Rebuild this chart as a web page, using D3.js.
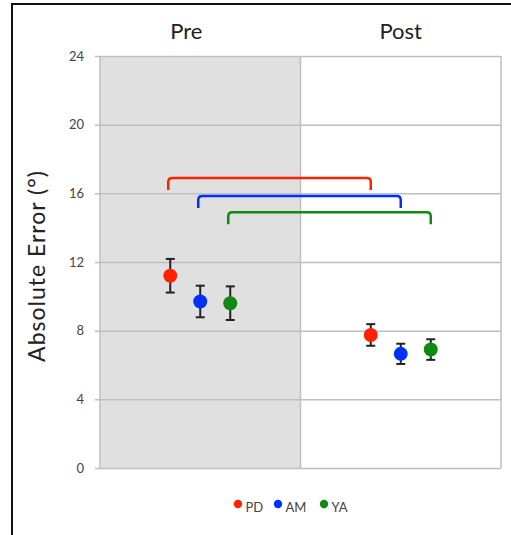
<!DOCTYPE html>
<html>
<head>
<meta charset="utf-8">
<script src="https://cdnjs.cloudflare.com/ajax/libs/d3/7.8.5/d3.min.js"></script>
<style>
  body { margin: 0; background: #fff; }
  text { font-family: Lato, "Open Sans", sans-serif; }
</style>
</head>
<body>
<script>
// Chart data
var categories = ["Pre", "Post"];
var groups = ["PD", "AM", "YA"];
var groupColors = ["#ff2200", "#0030ff", "#108a10"];
var meanValues = [[11.2, 9.7, 9.6], [7.75, 6.65, 6.9]];
var errValues = [[0.98, 0.92, 0.98], [0.63, 0.59, 0.6]];
var yTicks = [0, 4, 8, 12, 16, 20, 24];
var bracketTops = [16.9, 15.85, 14.9];
var yTitle = "Absolute Error (°)";

var width = 511, height = 535;
var plot = {left: 100, right: 501, top: 56, bottom: 468};

var svg = d3.select("body").append("svg")
    .attr("width", width)
    .attr("height", height);

// frame (left and top edge only)
svg.append("path")
    .attr("d", "M12,535 L12,4 L511,4")
    .attr("fill", "none")
    .attr("stroke", "#111")
    .attr("stroke-width", 2);

var x = d3.scaleBand().domain(categories).range([plot.left, plot.right]);
var inner = d3.scalePoint().domain(groups).range([-30, 30]);
var y = d3.scaleLinear().domain([0, 24]).range([plot.bottom, plot.top]);

// shaded "Pre" half
svg.append("rect")
    .attr("x", x("Pre"))
    .attr("y", y(24))
    .attr("width", x.bandwidth())
    .attr("height", y(0) - y(24))
    .attr("fill", "#e0e0e0");

// gridlines + tick labels
var yAxis = svg.append("g")
    .attr("transform", "translate(" + (plot.left - 5) + ",0)")
    .call(d3.axisLeft(y).tickValues(yTicks).tickSize(-(plot.right - plot.left + 5)).tickPadding(11));
yAxis.select(".domain").remove();
yAxis.selectAll("line").attr("stroke", "#bfbfbf").attr("stroke-width", 1.5);
yAxis.selectAll("text")
    .attr("fill", "#444")
    .style("font-size", "13px");

// vertical borders
var vlines = [plot.left, x("Post"), plot.right];
svg.selectAll(".vline").data(vlines).enter().append("line")
    .attr("class", "vline")
    .attr("x1", function(d) { return d; })
    .attr("x2", function(d) { return d; })
    .attr("y1", y(24))
    .attr("y2", y(0))
    .attr("stroke", "#bfbfbf")
    .attr("stroke-width", 1.5);

// category labels on top
var labelShift = [-14, 0];
svg.selectAll(".cat").data(categories).enter().append("text")
    .attr("class", "cat")
    .attr("x", function(d, i) { return x(d) + x.bandwidth() / 2 + labelShift[i]; })
    .attr("y", 39)
    .attr("text-anchor", "middle")
    .attr("fill", "#222")
    .style("font-size", "22px")
    .text(function(d) { return d; });

// y title
svg.append("text")
    .attr("transform", "translate(45,266) rotate(-90)")
    .attr("text-anchor", "middle")
    .attr("fill", "#222")
    .style("font-size", "23px")
    .style("letter-spacing", "1px")
    .text(yTitle);

function px(ci, gi) { return x(categories[ci]) + x.bandwidth() / 2 + inner(groups[gi]); }

// significance brackets
var legDepth = 0.7, rad = 4;
svg.selectAll(".bracket").data(bracketTops).enter().append("path")
    .attr("class", "bracket")
    .attr("fill", "none")
    .attr("stroke", function(d, i) { return groupColors[i]; })
    .attr("stroke-width", 2.5)
    .attr("d", function(d, i) {
        var x1 = px(0, i) - 2, x2 = px(1, i), t = y(d), b = y(d - legDepth);
        return "M" + x1 + "," + b + " L" + x1 + "," + (t + rad) +
            " Q" + x1 + "," + t + " " + (x1 + rad) + "," + t +
            " L" + (x2 - rad) + "," + t +
            " Q" + x2 + "," + t + " " + x2 + "," + (t + rad) +
            " L" + x2 + "," + b;
    });

// points with error bars
var pts = [];
categories.forEach(function(c, ci) {
    groups.forEach(function(g, gi) {
        pts.push({ci: ci, gi: gi, mean: meanValues[ci][gi], err: errValues[ci][gi]});
    });
});

var pg = svg.selectAll(".pt").data(pts).enter().append("g").attr("class", "pt");
pg.append("line")
    .attr("x1", function(d) { return px(d.ci, d.gi); })
    .attr("x2", function(d) { return px(d.ci, d.gi); })
    .attr("y1", function(d) { return y(d.mean + d.err); })
    .attr("y2", function(d) { return y(d.mean - d.err); })
    .attr("stroke", "#222").attr("stroke-width", 2);
[1, -1].forEach(function(s) {
    pg.append("line")
        .attr("x1", function(d) { return px(d.ci, d.gi) - 4.5; })
        .attr("x2", function(d) { return px(d.ci, d.gi) + 4.5; })
        .attr("y1", function(d) { return y(d.mean + s * d.err); })
        .attr("y2", function(d) { return y(d.mean + s * d.err); })
        .attr("stroke", "#222").attr("stroke-width", 2);
});
pg.append("circle")
    .attr("cx", function(d) { return px(d.ci, d.gi); })
    .attr("cy", function(d) { return y(d.mean); })
    .attr("r", 7)
    .attr("fill", function(d) { return groupColors[d.gi]; });

// legend
var legX = [238, 278, 324];
var leg = svg.selectAll(".leg").data(groups).enter().append("g").attr("class", "leg")
    .attr("transform", function(d, i) { return "translate(" + legX[i] + ",504)"; });
leg.append("circle").attr("r", 4.2).attr("fill", function(d, i) { return groupColors[i]; });
leg.append("text")
    .attr("x", 7.5)
    .attr("y", 8)
    .attr("fill", "#444")
    .style("font-size", "13px")
    .text(function(d) { return d; });
</script>
</body>
</html>
